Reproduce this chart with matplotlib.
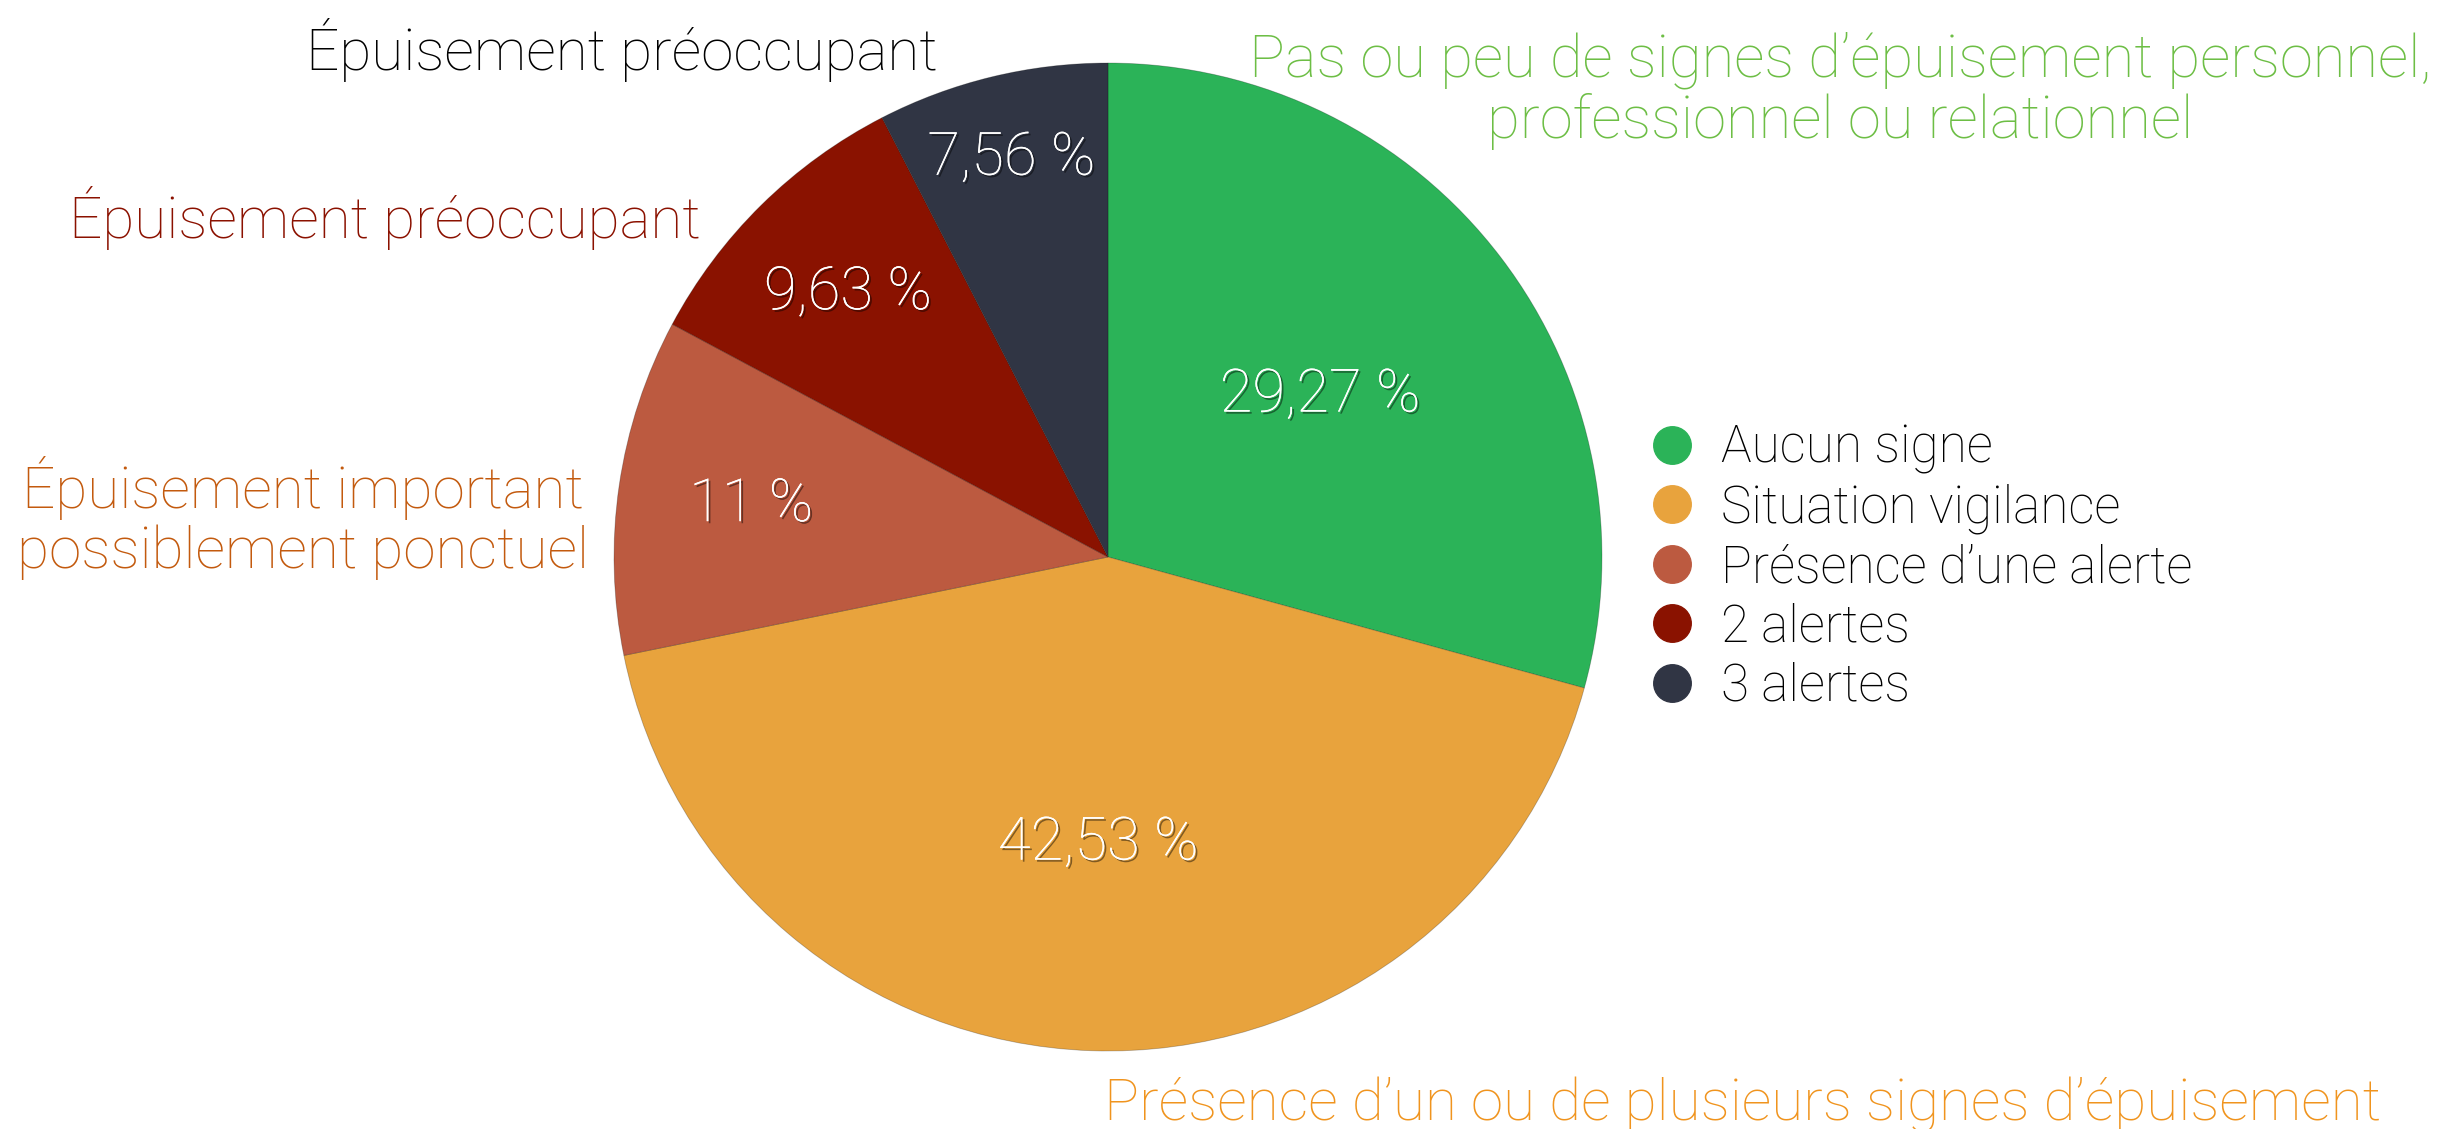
import matplotlib
matplotlib.use('Agg')
import matplotlib.pyplot as plt
import matplotlib.patheffects as pe
from matplotlib.lines import Line2D
import numpy as np

plt.rcParams['font.family'] = ['Roboto', 'DejaVu Sans']

# data
categories = ['Aucun signe', 'Situation vigilance', 'Présence d\u2019une alerte',
              '2 alertes', '3 alertes']
values = [29.27, 42.53, 11, 9.63, 7.56]
colors = ['#2bb358', '#e8a33d', '#bc5a40', '#8a1200', '#303544']
pct_labels = ['29,27 %', '42,53 %', '11 %', '9,63 %', '7,56 %']
label_dist = [0.54, 0.58, 0.73, 0.75, 0.83]

W, H = 2439, 1129
fig = plt.figure(figsize=(W / 100, H / 100), dpi=100)
ax = fig.add_axes([0, 0, 1, 1])

cx, cy, r = 1108, H - 557, 494
wedges, _ = ax.pie(values, colors=colors, startangle=90, counterclock=False,
                   radius=r, center=(cx, cy),
                   wedgeprops=dict(linewidth=0.6, edgecolor='#00000040'))
ax.set_xlim(0, W)
ax.set_ylim(0, H)
ax.set_aspect('equal')
ax.axis('off')

shadow = [pe.withSimplePatchShadow(offset=(1.5, -1.5), shadow_rgbFace='black', alpha=0.45),
          pe.Normal()]
for w, lab, d in zip(wedges, pct_labels, label_dist):
    th = np.deg2rad((w.theta1 + w.theta2) / 2)
    ax.text(cx + d * r * np.cos(th), cy + d * r * np.sin(th), lab,
            ha='center', va='center', color='white', fontsize=43,
            fontweight='light', path_effects=shadow)

# outer annotations
def ftext(x, y, s, color, size=42, ha='center'):
    fig.text(x / W, 1 - y / H, s, color=color, fontsize=size, fontweight='light',
             ha=ha, va='center', linespacing=1.1)

ftext(1840, 91, 'Pas ou peu de signes d\u2019épuisement personnel,\nprofessionnel ou relationnel',
      '#6dbe45', size=43)
ftext(622, 50, 'Épuisement préoccupant', '#000000')
ftext(385, 218, 'Épuisement préoccupant', '#8b1100')
ftext(303, 518, 'Épuisement important\npossiblement ponctuel', '#c35a0e')
ftext(1743, 1105, 'Présence d\u2019un ou de plusieurs signes d\u2019épuisement', '#f0941e')

handles = [Line2D([], [], ls='none', marker='o', markersize=27, color=c) for c in colors]
leg = ax.legend(handles, categories, loc='upper left', bbox_to_anchor=(1626 / W, 1 - 403 / H),
                frameon=False, prop=dict(size=37, weight='light'), handlelength=1.0,
                handletextpad=0.45, labelspacing=0.18, borderaxespad=0)

fig.savefig('out.png', dpi=100)
